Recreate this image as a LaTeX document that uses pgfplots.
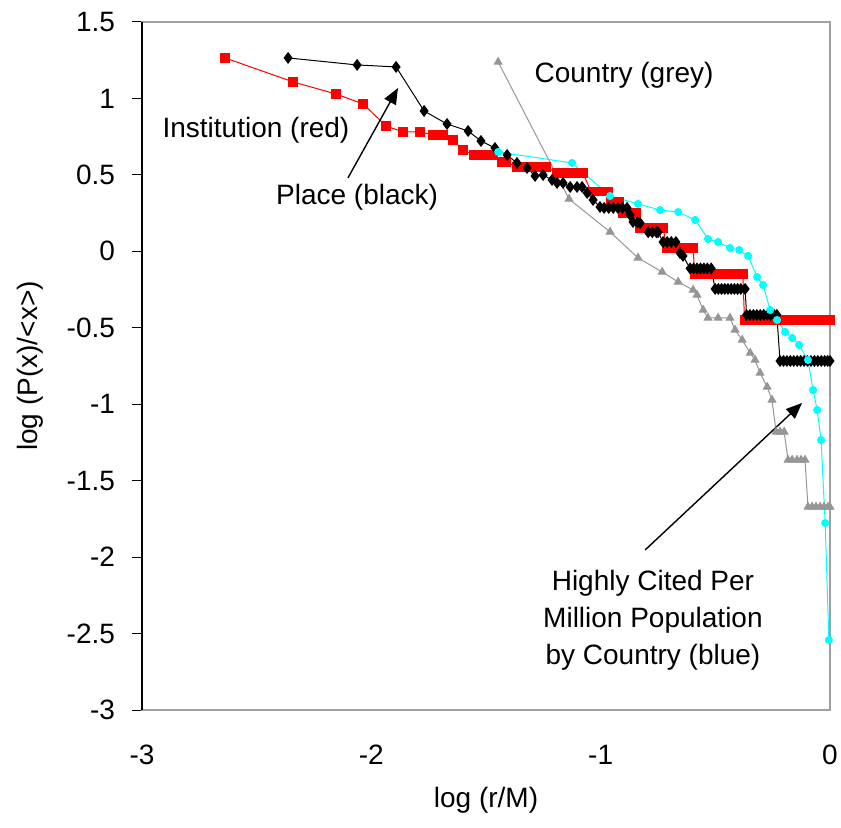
\documentclass[border=0pt]{standalone}
\usepackage{fontspec}
\setmainfont{Liberation Sans}
\usepackage{pgfplots}
\pgfplotsset{compat=1.18}
\usetikzlibrary{arrows.meta}

\definecolor{instred}{RGB}{255,0,0}
\definecolor{ctrygrey}{RGB}{150,150,150}
\definecolor{popcyan}{RGB}{0,255,255}
\definecolor{framegrey}{RGB}{160,160,160}

\begin{document}
\begin{tikzpicture}[font=\fontsize{14}{17}\selectfont]
\begin{axis}[
  scale only axis, width=344pt, height=344pt,
  xmin=-3, xmax=0, ymin=-3, ymax=1.5,
  xtick={-3,-2,-1,0}, ytick={-3,-2.5,...,1.5},
  axis line style={framegrey, line width=0.8pt},
  tick align=outside, ytick pos=left, xtick pos=bottom,
  x tick style={draw=none}, y tick style={black, line width=0.5pt},
  major tick length=5pt,
  /pgf/number format/assume math mode=true,
  tick label style={font=\fontsize{14}{17}\selectfont},
  yticklabel style={xshift=-5pt},
  xticklabel style={yshift=-9pt},
  xlabel={log (r/M)}, ylabel={log (P(x)/<x>)},
  every axis x label/.style={at={(axis description cs:0.5,-0.1308)}, anchor=center},
  every axis y label/.style={at={(axis description cs:-0.1628,0.5)}, anchor=center, rotate=90},
  clip=false,
]
\draw[black, line width=0.6pt] (rel axis cs:0,0) -- (rel axis cs:0,1);

% Institution (red)
\addplot[instred, line width=0.5pt, mark=square*, mark size=2.1pt] coordinates {
(-2.638,1.265) (-2.341,1.108) (-2.154,1.029) (-2.036,0.964) (-1.936,0.820)
(-1.862,0.781) (-1.788,0.781) (-1.731,0.761) (-1.687,0.761) (-1.644,0.728)
(-1.600,0.663)
(-1.552,0.630) (-1.525,0.630) (-1.497,0.630) (-1.469,0.630)
(-1.430,0.584) (-1.410,0.584)
(-1.365,0.552) (-1.343,0.552) (-1.321,0.552) (-1.299,0.552) (-1.277,0.552) (-1.255,0.552) (-1.238,0.552)
(-1.190,0.512) (-1.170,0.512) (-1.150,0.512) (-1.130,0.512) (-1.110,0.512) (-1.090,0.512) (-1.077,0.512)
(-1.042,0.390) (-1.024,0.390) (-1.006,0.390) (-0.988,0.390) (-0.968,0.390)
(-0.955,0.323) (-0.937,0.323) (-0.920,0.323)
(-0.905,0.251) (-0.885,0.251) (-0.865,0.251) (-0.845,0.251)
(-0.828,0.153) (-0.808,0.153) (-0.788,0.153) (-0.768,0.153) (-0.748,0.153) (-0.728,0.153)
(-0.712,0.022) (-0.692,0.022) (-0.672,0.022) (-0.652,0.022) (-0.632,0.022) (-0.612,0.022) (-0.597,0.022)
(-0.590,-0.148) (-0.575,-0.148) (-0.560,-0.148) (-0.545,-0.148) (-0.530,-0.148)
(-0.515,-0.148) (-0.500,-0.148) (-0.485,-0.148) (-0.470,-0.148) (-0.455,-0.148)
(-0.440,-0.148) (-0.425,-0.148) (-0.410,-0.148) (-0.395,-0.148) (-0.380,-0.148)
(-0.373,-0.449) (-0.358,-0.449) (-0.343,-0.449) (-0.328,-0.449) (-0.313,-0.449)
(-0.298,-0.449) (-0.283,-0.449) (-0.268,-0.449) (-0.253,-0.449) (-0.238,-0.449)
(-0.223,-0.449) (-0.208,-0.449) (-0.193,-0.449) (-0.178,-0.449) (-0.163,-0.449)
(-0.148,-0.449) (-0.133,-0.449) (-0.118,-0.449) (-0.103,-0.449) (-0.088,-0.449)
(-0.073,-0.449) (-0.058,-0.449) (-0.043,-0.449) (-0.028,-0.449) (-0.014,-0.449) (0,-0.449)
};

% Country (grey)
\addplot[ctrygrey, line width=0.5pt, mark=triangle*, mark size=2.2pt] coordinates {
(-1.447,1.238) (-1.138,0.342) (-0.959,0.127) (-0.837,-0.043) (-0.732,-0.135)
(-0.662,-0.200) (-0.597,-0.253) (-0.580,-0.285) (-0.553,-0.384) (-0.532,-0.436)
(-0.488,-0.436) (-0.436,-0.436) (-0.414,-0.514) (-0.383,-0.580) (-0.348,-0.665)
(-0.327,-0.711) (-0.305,-0.796) (-0.274,-0.887) (-0.253,-0.972)
(-0.235,-1.181) (-0.218,-1.181) (-0.200,-1.181)
(-0.183,-1.365) (-0.165,-1.365) (-0.144,-1.365) (-0.126,-1.365) (-0.109,-1.365)
(-0.096,-1.672) (-0.078,-1.672) (-0.061,-1.672) (-0.043,-1.672) (-0.026,-1.672)
(-0.009,-1.672) (0,-1.672)
};

% Place (black)
\addplot[black, line width=0.5pt, mark=diamond*, mark size=2.6pt] coordinates {
(-2.363,1.265) (-2.062,1.219) (-1.892,1.206) (-1.770,0.918) (-1.670,0.833)
(-1.578,0.787) (-1.522,0.722) (-1.461,0.676) (-1.408,0.630) (-1.365,0.578)
(-1.321,0.545) (-1.286,0.493) (-1.251,0.499) (-1.212,0.467) (-1.190,0.447)
(-1.164,0.447) (-1.133,0.421) (-1.103,0.421) (-1.081,0.421) (-1.059,0.382)
(-1.033,0.336) (-1.003,0.290)
(-0.985,0.284) (-0.965,0.284) (-0.945,0.284) (-0.925,0.284) (-0.905,0.284) (-0.885,0.284)
(-0.872,0.238) (-0.859,0.192) (-0.840,0.190) (-0.828,0.185)
(-0.793,0.125) (-0.775,0.125) (-0.757,0.125) (-0.750,0.125)
(-0.728,0.061) (-0.710,0.061) (-0.692,0.061) (-0.672,0.061)
(-0.654,-0.011) (-0.641,-0.030)
(-0.610,-0.112) (-0.595,-0.112) (-0.580,-0.112) (-0.565,-0.112) (-0.550,-0.112)
(-0.535,-0.112) (-0.518,-0.112)
(-0.501,-0.246) (-0.487,-0.246) (-0.473,-0.246) (-0.459,-0.246) (-0.445,-0.246)
(-0.431,-0.246) (-0.417,-0.246) (-0.403,-0.246) (-0.389,-0.246) (-0.370,-0.246)
(-0.364,-0.416) (-0.349,-0.416) (-0.334,-0.416) (-0.319,-0.416) (-0.304,-0.416)
(-0.289,-0.416) (-0.274,-0.416) (-0.259,-0.416) (-0.244,-0.416) (-0.232,-0.416)
(-0.218,-0.717) (-0.203,-0.717) (-0.188,-0.717) (-0.173,-0.717) (-0.158,-0.717)
(-0.143,-0.717) (-0.128,-0.717) (-0.113,-0.717) (-0.098,-0.717) (-0.083,-0.717)
(-0.068,-0.717) (-0.053,-0.717) (-0.038,-0.717) (-0.023,-0.717) (-0.010,-0.717) (0,-0.717)
};

% Highly cited per million population by country (blue)
\addplot[popcyan, line width=0.5pt, mark=*, mark size=1.75pt] coordinates {
(-1.447,0.650) (-1.125,0.578) (-0.959,0.362) (-0.837,0.310) (-0.741,0.270)
(-0.662,0.257) (-0.588,0.205) (-0.532,0.081) (-0.488,0.061) (-0.436,0.022)
(-0.396,0.009) (-0.357,-0.030) (-0.318,-0.168) (-0.292,-0.220) (-0.261,-0.384)
(-0.231,-0.449) (-0.196,-0.527) (-0.165,-0.567) (-0.135,-0.612) (-0.096,-0.711)
(-0.074,-0.907) (-0.056,-1.038) (-0.039,-1.234) (-0.021,-1.777) (-0.005,-2.542)
};

\node at (axis cs:-2.503,0.794) {Institution (red)};
\node at (axis cs:-2.062,0.355) {Place (black)};
\node at (axis cs:-0.898,1.153) {Country (grey)};
\node[align=center, font=\fontsize{14}{18.5}\selectfont] at (axis cs:-0.772,-2.411)
  {Highly Cited Per\\Million Population\\by Country (blue)};
\draw[black, line width=0.7pt, -{Triangle[length=8pt,width=6.5pt]}]
  (axis cs:-2.102,0.480) -- (axis cs:-1.884,1.068);
\draw[black, line width=0.7pt, -{Triangle[length=8pt,width=6.5pt]}]
  (axis cs:-0.806,-1.953) -- (axis cs:-0.122,-0.992);

\coordinate (sw) at (rel axis cs:0,0);
\coordinate (ne) at (rel axis cs:1,1);
\end{axis}
\pgfresetboundingbox
\path ([shift={(-71pt,-58.5pt)}]sw) rectangle ([shift={(5.5pt,11pt)}]ne);
\end{tikzpicture}
\end{document}
